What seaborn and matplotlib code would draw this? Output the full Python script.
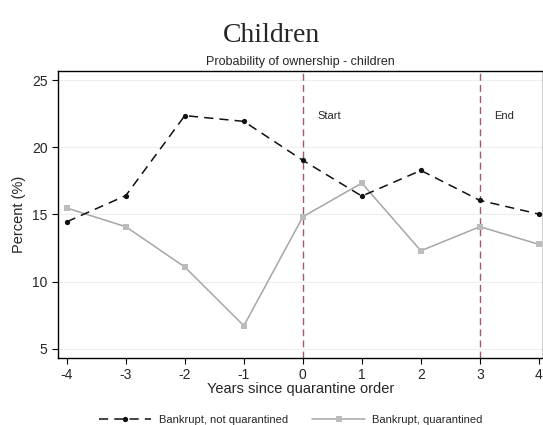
import pandas as pd
import numpy as np
import matplotlib
matplotlib.use("Agg")
import matplotlib.pyplot as plt
from matplotlib import font_manager
import seaborn as sb

# data
years = [-4, -3, -2, -1, 0, 1, 2, 3, 4]
not_quarantined = [14.45, 16.4, 22.35, 21.92, 19.02, 16.36, 18.27, 16.04, 15.02]
quarantined = [15.47, 14.08, 11.08, 6.71, 14.82, 17.33, 12.29, 14.08, 12.77]
yticks = [5, 10, 15, 20, 25]

sb.set_style("white")
# make sure we get the regular (not narrow) Liberation Sans
files = [f for f in font_manager.findSystemFonts() if f.endswith('LiberationSans-Regular.ttf')]
if files:
    font_manager.fontManager.addfont(files[0])
    sans = font_manager.FontProperties(fname=files[0]).get_name()
else:
    sans = 'DejaVu Sans'
plt.rcParams['font.family'] = [sans, 'DejaVu Sans']
plt.rcParams['axes.unicode_minus'] = False

fig = plt.figure(figsize=(5.43, 4.25), dpi=100)
ax = fig.add_axes([58/543, 1 - 358/425, 1 - 58/543, (358 - 71)/425])

for y in yticks:
    ax.axhline(y, color='#eeeeee', lw=0.8, zorder=0)

df = pd.DataFrame({'year': years, 'nq': not_quarantined, 'q': quarantined})
sb.lineplot(data=df, x='year', y='q', ax=ax, color='#a6a6a6', lw=1.1,
            marker='s', markersize=5, markeredgewidth=0, markerfacecolor='#bcbcbc',
            label='Bankrupt, quarantined')
sb.lineplot(data=df, x='year', y='nq', ax=ax, color='#111111', lw=1.1, ls=(0, (6, 4)),
            marker='o', markersize=3.8, markeredgewidth=0, label='Bankrupt, not quarantined')

for x in [0, 3]:
    ax.axvline(x, color='#a05a6a', lw=1.0, ls=(0, (5, 3)), zorder=1.5)

ax.text(0.25, 22.3, 'Start', fontsize=8, va='center')
ax.text(3.25, 22.3, 'End', fontsize=8, va='center')

ax.set_xlim(-4.15, 4.07)
ax.set_ylim(4.31, 25.67)
ax.set_xticks(years)
ax.set_yticks(yticks)
ax.tick_params(axis='both', labelsize=10, length=4, width=0.8, color='black', direction='out',
               left=True, bottom=True)
ax.set_xlabel('Years since quarantine order', fontsize=10.5, labelpad=0)
ax.set_ylabel('Percent (%)', fontsize=10.5)
ax.set_title('Probability of ownership - children', fontsize=9, pad=4)
for s in ax.spines.values():
    s.set_color('black')
    s.set_linewidth(1.0)

h, l = ax.get_legend_handles_labels()
ax.legend(h[::-1], l[::-1], loc='center', bbox_to_anchor=(0.48, -0.215), ncol=2,
          frameon=False, fontsize=8, handlelength=4.7, handletextpad=0.7, columnspacing=2.2)

fig.text(0.5, 1 - 35/425, 'Children', ha='center', va='center', fontsize=20,
         family='Liberation Serif')

fig.savefig('out.png', dpi=100)
